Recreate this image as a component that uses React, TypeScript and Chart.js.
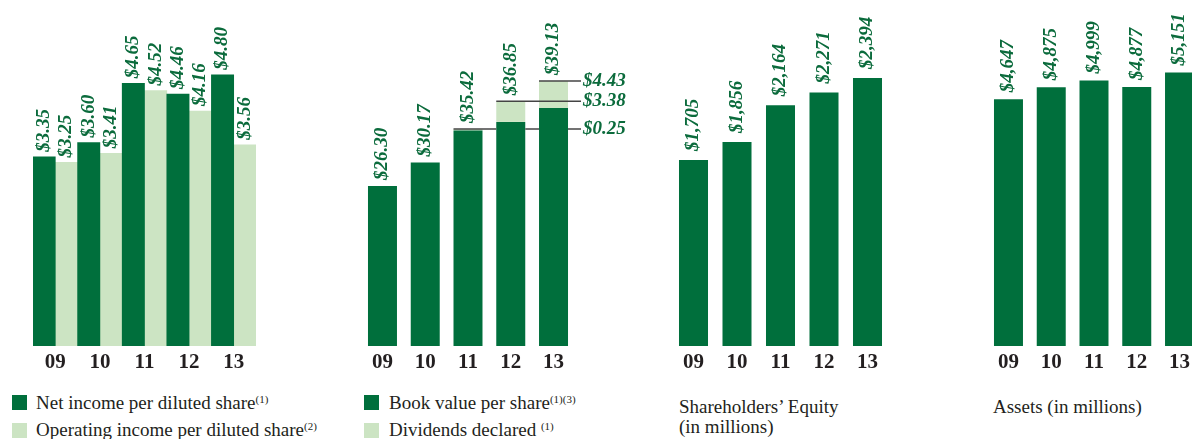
import React, { useEffect, useRef } from "react";
import { Chart, registerables } from "chart.js";

Chart.register(...registerables);

// ---------------- data ----------------
const years = ["09", "10", "11", "12", "13"];
const netIncome = [3.35, 3.6, 4.65, 4.46, 4.8];
const operatingIncome = [3.25, 3.41, 4.52, 4.16, 3.56];
const bookValue = [26.3, 30.17, 35.42, 36.85, 39.13];
const dividends: (number | null)[] = [null, null, 0.25, 3.38, 4.43];
const equity = [1705, 1856, 2164, 2271, 2394];
const assets = [4647, 4875, 4999, 4877, 5151];

// ---------------- styles ----------------
const DARK = "#006F3C";
const LIGHT = "#CCE4C3";
const LABEL_COLOR = "#0b6b3c";
const TEXT_COLOR = "#231f20";
const SERIF = "'Liberation Serif', 'Times New Roman', serif";
const LABEL_FONT = `italic bold 19px ${SERIF}`;
const CANVAS_H = 380;
const AXIS_H = 34;

const fmtDec = (v: number) => "$" + v.toFixed(2);
const fmtInt = (v: number) => "$" + v.toLocaleString("en-US");

function drawRot(ctx: CanvasRenderingContext2D, text: string, x: number, y: number) {
  ctx.save();
  ctx.translate(x, y);
  ctx.rotate(-Math.PI / 2);
  ctx.textAlign = "left";
  ctx.textBaseline = "middle";
  ctx.fillText(text, 0, 0);
  ctx.restore();
}

const valueLabels = {
  id: "valueLabels",
  afterDatasetsDraw(chart: any, _args: any, opts: any) {
    if (!opts || !opts.mode) return;
    const ctx: CanvasRenderingContext2D = chart.ctx;
    ctx.save();
    ctx.font = LABEL_FONT;
    ctx.fillStyle = LABEL_COLOR;
    if (opts.mode === "each") {
      chart.data.datasets.forEach((ds: any, i: number) => {
        const meta = chart.getDatasetMeta(i);
        meta.data.forEach((bar: any, j: number) => {
          const v = ds.data[j];
          if (v == null) return;
          drawRot(ctx, opts.format(v), bar.x, bar.y - opts.gap);
        });
      });
    } else if (opts.mode === "stack") {
      const baseMeta = chart.getDatasetMeta(0);
      const topMeta = chart.getDatasetMeta(1);
      const topData = chart.data.datasets[1].data;
      const baseData = chart.data.datasets[0].data;
      // lines for the stacked part (hidden behind dark bars)
      const last = baseMeta.data[baseMeta.data.length - 1];
      const xEnd = last.x + last.width / 2 + opts.lineExtra;
      ctx.save();
      ctx.beginPath();
      ctx.rect(0, 0, chart.width, chart.height);
      baseMeta.data.forEach((b: any) => {
        ctx.rect(b.x - b.width / 2, b.y, b.width, b.base - b.y);
      });
      ctx.clip("evenodd");
      ctx.strokeStyle = "#444444";
      ctx.lineWidth = 1.5;
      topMeta.data.forEach((el: any, j: number) => {
        if (topData[j] == null) return;
        ctx.beginPath();
        ctx.moveTo(el.x - el.width / 2, el.y);
        ctx.lineTo(xEnd, el.y);
        ctx.stroke();
      });
      ctx.restore();
      topMeta.data.forEach((el: any, j: number) => {
        const v = topData[j];
        if (v == null) return;
        ctx.textAlign = "left";
        ctx.textBaseline = "middle";
        ctx.fillText(opts.format(v), xEnd + 2, el.y);
      });
      baseMeta.data.forEach((bar: any, j: number) => {
        const y = topData[j] != null ? topMeta.data[j].y : bar.y;
        drawRot(ctx, opts.format(baseData[j]), bar.x, y - opts.gap);
      });
    }
    ctx.restore();
  },
};

function makeOptions(p: {
  padLeft: number;
  padRight: number;
  yMin: number;
  yMax: number;
  stacked?: boolean;
  labels: any;
}) {
  return {
    responsive: false,
    animation: false,
    layout: { padding: { left: p.padLeft, right: p.padRight, top: 0, bottom: 0 } },
    plugins: {
      legend: { display: false },
      tooltip: { enabled: false },
      valueLabels: p.labels,
    },
    scales: {
      x: {
        stacked: !!p.stacked,
        offset: true,
        grid: { display: false, drawTicks: false },
        border: { display: false },
        ticks: {
          padding: 4,
          color: TEXT_COLOR,
          font: { family: SERIF, size: 21, weight: "bold" },
          maxRotation: 0,
          autoSkip: false,
        },
        afterFit: (s: any) => {
          s.height = AXIS_H;
        },
      },
      y: { display: false, stacked: !!p.stacked, min: p.yMin, max: p.yMax },
    },
  };
}

function incomeConfig(): any {
  return {
    type: "bar",
    data: {
      labels: years,
      datasets: [
        { label: "Net income per diluted share", data: netIncome, backgroundColor: DARK, borderWidth: 0, barPercentage: 1, categoryPercentage: 1 },
        { label: "Operating income per diluted share", data: operatingIncome, backgroundColor: LIGHT, borderWidth: 0, barPercentage: 1, categoryPercentage: 1 },
      ],
    },
    options: makeOptions({ padLeft: 33, padRight: 44, yMin: 0, yMax: 6.124, labels: { mode: "each", gap: 5, format: fmtDec } }),
    plugins: [valueLabels],
  };
}

function bookConfig(): any {
  return {
    type: "bar",
    data: {
      labels: years,
      datasets: [
        { label: "Book value per share", data: bookValue, backgroundColor: DARK, borderWidth: 0, barPercentage: 0.678, categoryPercentage: 1 },
        { label: "Dividends declared", data: dividends, backgroundColor: LIGHT, borderWidth: 0, barPercentage: 0.678, categoryPercentage: 1 },
      ],
    },
    options: makeOptions({ padLeft: 21.1, padRight: 65.1, yMin: 0, yMax: 56.9, stacked: true, labels: { mode: "stack", gap: 6, lineExtra: 13, format: fmtDec } }),
    plugins: [valueLabels],
  };
}

function equityConfig(): any {
  return {
    type: "bar",
    data: {
      labels: years,
      datasets: [{ label: "Shareholders’ Equity", data: equity, backgroundColor: DARK, borderWidth: 0, barPercentage: 0.667, categoryPercentage: 1 }],
    },
    options: makeOptions({ padLeft: 11.75, padRight: 70.75, yMin: 142, yMax: 3049, labels: { mode: "each", gap: 9, format: fmtInt } }),
    plugins: [valueLabels],
  };
}

function assetsConfig(): any {
  return {
    type: "bar",
    data: {
      labels: years,
      datasets: [{ label: "Assets", data: assets, backgroundColor: DARK, borderWidth: 0, barPercentage: 0.678, categoryPercentage: 1 }],
    },
    options: makeOptions({ padLeft: 27.1, padRight: 19.1, yMin: 0, yMax: 6516, labels: { mode: "each", gap: 7, format: fmtInt } }),
    plugins: [valueLabels],
  };
}

function Panel({ makeConfig, left, width }: { makeConfig: () => any; left: number; width: number }) {
  const ref = useRef<HTMLCanvasElement>(null);
  useEffect(() => {
    const chart = new Chart(ref.current as HTMLCanvasElement, makeConfig());
    return () => chart.destroy();
  }, []);
  return (
    <canvas
      ref={ref}
      width={width}
      height={CANVAS_H}
      style={{ position: "absolute", left, top: 0, width, height: CANVAS_H }}
    />
  );
}

const legendText: React.CSSProperties = {
  position: "absolute",
  fontFamily: SERIF,
  fontSize: 19,
  lineHeight: "19px",
  color: TEXT_COLOR,
  whiteSpace: "nowrap",
};

const supStyle: React.CSSProperties = { fontSize: 11, verticalAlign: "6px", lineHeight: 0 };

function Swatch({ left, top, color }: { left: number; top: number; color: string }) {
  return <div style={{ position: "absolute", left, top, width: 15, height: 15, background: color }} />;
}

export default function App() {
  return (
    <div
      style={{
        position: "fixed",
        left: 0,
        top: 0,
        width: 1192,
        height: 439,
        overflow: "hidden",
        background: "#ffffff",
      }}
    >
      <Panel makeConfig={incomeConfig} left={0} width={300} />
      <Panel makeConfig={bookConfig} left={340} width={300} />
      <Panel makeConfig={equityConfig} left={660} width={300} />
      <Panel makeConfig={assetsConfig} left={960} width={260} />

      <Swatch left={12} top={395} color={DARK} />
      <div style={{ ...legendText, left: 36, top: 393 }}>
        Net income per diluted share<span style={supStyle}>(1)</span>
      </div>
      <Swatch left={12} top={423} color={LIGHT} />
      <div style={{ ...legendText, left: 36, top: 420 }}>
        Operating income per diluted share<span style={supStyle}>(2)</span>
      </div>

      <Swatch left={364} top={395} color={DARK} />
      <div style={{ ...legendText, left: 389, top: 393 }}>
        Book value per share<span style={supStyle}>(1)(3)</span>
      </div>
      <Swatch left={364} top={423} color={LIGHT} />
      <div style={{ ...legendText, left: 389, top: 420 }}>
        Dividends declared <span style={supStyle}>(1)</span>
      </div>

      <div style={{ ...legendText, left: 679, top: 397, lineHeight: "20px" }}>
        Shareholders’ Equity
        <br />
        (in millions)
      </div>
      <div style={{ ...legendText, left: 993, top: 397 }}>Assets (in millions)</div>
    </div>
  );
}
